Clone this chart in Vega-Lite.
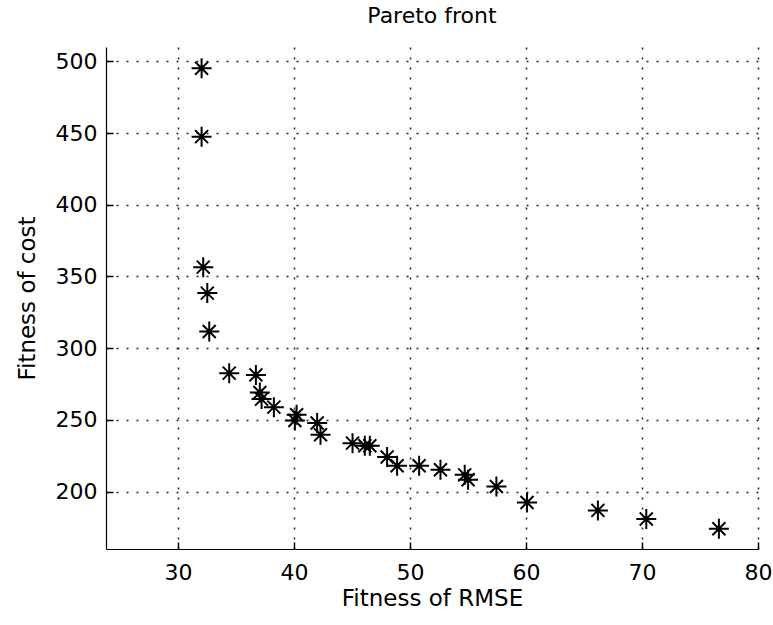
{
  "$schema": "https://vega.github.io/schema/vega-lite/v6.json",
  "width": 652,
  "height": 502,
  "autosize": {"type": "none"},
  "padding": {"left": 106, "top": 47, "right": 15, "bottom": 76},
  "background": "white",
  "title": {"text": "Pareto front", "fontSize": 22, "font": "DejaVu Sans", "fontWeight": "normal", "color": "black", "offset": 19, "anchor": "middle"},
  "config": {"view": {"stroke": null}},
  "data": {"values": [
    {"rmse": 32.04, "cost": 495.2},
    {"rmse": 32.04, "cost": 447.5},
    {"rmse": 32.18, "cost": 356.5},
    {"rmse": 32.53, "cost": 338.4},
    {"rmse": 32.70, "cost": 311.6},
    {"rmse": 34.42, "cost": 282.6},
    {"rmse": 36.72, "cost": 281.4},
    {"rmse": 37.06, "cost": 269.1},
    {"rmse": 37.21, "cost": 264.5},
    {"rmse": 38.27, "cost": 258.9},
    {"rmse": 40.23, "cost": 253.6},
    {"rmse": 40.08, "cost": 249.6},
    {"rmse": 42.00, "cost": 247.8},
    {"rmse": 42.29, "cost": 239.6},
    {"rmse": 45.05, "cost": 233.8},
    {"rmse": 46.11, "cost": 232.0},
    {"rmse": 46.54, "cost": 232.0},
    {"rmse": 48.03, "cost": 224.1},
    {"rmse": 48.89, "cost": 218.0},
    {"rmse": 50.79, "cost": 218.0},
    {"rmse": 52.63, "cost": 215.2},
    {"rmse": 54.72, "cost": 211.7},
    {"rmse": 55.01, "cost": 208.3},
    {"rmse": 57.45, "cost": 203.6},
    {"rmse": 60.09, "cost": 192.4},
    {"rmse": 66.20, "cost": 186.9},
    {"rmse": 70.37, "cost": 180.9},
    {"rmse": 76.63, "cost": 174.1}
  ]},
  "mark": {"type": "point", "shape": "M-1,0L1,0M0,-1L0,1M-0.65,-0.65L0.65,0.65M-0.65,0.65L0.65,-0.65", "filled": false, "stroke": "black", "strokeWidth": 2, "size": 400, "opacity": 1},
  "encoding": {
    "x": {"field": "rmse", "type": "quantitative",
      "scale": {"domain": [23.8, 80], "nice": false, "zero": false},
      "axis": {"title": "Fitness of RMSE", "values": [30, 40, 50, 60, 70, 80],
        "grid": true, "gridColor": "#222", "gridDash": [2, 8], "gridWidth": 1.5,
        "domainColor": "black", "domainWidth": 1.2, "tickColor": "black", "tickSize": -7, "tickWidth": 1.5,
        "labelPadding": 20, "labelFont": "DejaVu Sans", "labelFontSize": 22, "labelColor": "black",
        "titleFont": "DejaVu Sans", "titleFontSize": 23, "titleFontWeight": "normal", "titleColor": "black", "titlePadding": 4,
        "labelFlush": false}},
    "y": {"field": "cost", "type": "quantitative",
      "scale": {"domain": [160, 510], "nice": false, "zero": false},
      "axis": {"title": "Fitness of cost", "values": [200, 250, 300, 350, 400, 450, 500],
        "grid": true, "gridColor": "#222", "gridDash": [2, 8], "gridWidth": 1.5,
        "domainColor": "black", "domainWidth": 1.2, "tickColor": "black", "tickSize": -7, "tickWidth": 1.5,
        "labelPadding": 16, "labelFont": "DejaVu Sans", "labelFontSize": 22, "labelColor": "black",
        "titleFont": "DejaVu Sans", "titleFontSize": 23, "titleFontWeight": "normal", "titleColor": "black", "titlePadding": 16,
        "labelFlush": false}}
  }
}
